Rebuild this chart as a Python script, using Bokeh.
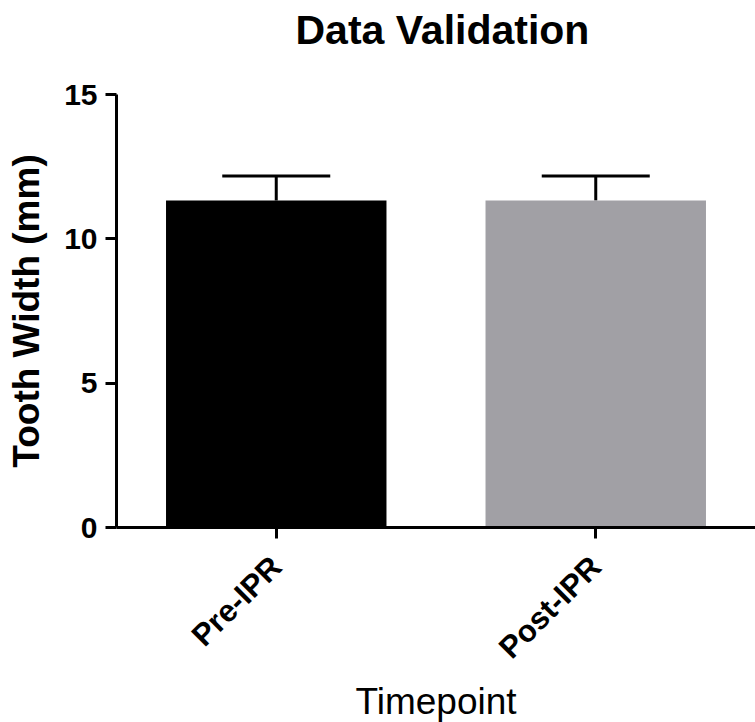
import math
from bokeh.plotting import figure
from bokeh.models import ColumnDataSource, FactorRange, Range1d, Whisker, TeeHead, FixedTicker, Title
from bokeh.embed import file_html
from bokeh.resources import INLINE

title_text = "Data Validation"
categories = ["Pre-IPR", "Post-IPR"]
means = [11.33, 11.33]
sds = [0.85, 0.85]
colors = ["#000000", "#a1a0a5"]
y_ticks = [0, 5, 10, 15]

upper = [m + s for m, s in zip(means, sds)]
src = ColumnDataSource(dict(cat=categories, mean=means, upper=upper, color=colors))

FONT = "Liberation Sans"

p = figure(
    x_range=FactorRange(*categories),
    y_range=Range1d(0, 15),
    width=755, height=720,
    frame_width=639, frame_height=433,
    min_border_left=116, min_border_top=94, min_border_right=0, min_border_bottom=10,
    output_backend="svg", toolbar_location=None,
)

p.vbar(x="cat", top="mean", width=0.69, color="color", line_color=None, source=src)

w = Whisker(base="cat", upper="upper", lower="mean", source=src,
            upper_head=TeeHead(size=108, line_width=3, line_color="black"),
            lower_head=None, line_width=3, line_color="black")
p.add_layout(w)

# blank spacer between the title and the plot frame, then the title itself
p.add_layout(Title(text=" ", text_font=FONT, text_font_size="20px", standoff=18), "above")
p.add_layout(Title(text=title_text, text_font=FONT, text_font_size="41px",
                   text_font_style="bold", text_color="black", align="left",
                   offset=179, standoff=0), "above")

p.grid.visible = False
p.outline_line_color = None
p.background_fill_color = "white"
p.border_fill_color = "white"

for ax in (p.xaxis[0], p.yaxis[0]):
    ax.axis_line_width = 3
    ax.axis_line_color = "black"
    ax.major_tick_line_width = 3
    ax.major_tick_line_color = "black"
    ax.major_tick_out = 11
    ax.major_tick_in = 0
    ax.minor_tick_line_color = None
    ax.major_label_text_font = FONT
    ax.major_label_text_font_style = "bold"
    ax.major_label_text_color = "black"
    ax.axis_label_text_font = FONT
    ax.axis_label_text_color = "black"

p.yaxis.ticker = FixedTicker(ticks=y_ticks)
p.yaxis.major_label_text_font_size = "30px"
p.yaxis.major_label_standoff = 8
p.yaxis.axis_label = "Tooth Width (mm)"
p.yaxis.axis_label_text_font_size = "37px"
p.yaxis.axis_label_text_font_style = "bold"
p.yaxis.axis_label_standoff = 14

p.xaxis.major_label_orientation = math.pi / 4
p.xaxis.major_label_text_font_size = "31px"
p.xaxis.major_label_standoff = 23
p.xaxis.axis_label = "Timepoint"
p.xaxis.axis_label_text_font_size = "37px"
p.xaxis.axis_label_text_font_style = "normal"
p.xaxis.axis_label_standoff = 0

open("out.html", "w").write(file_html(p, INLINE))
